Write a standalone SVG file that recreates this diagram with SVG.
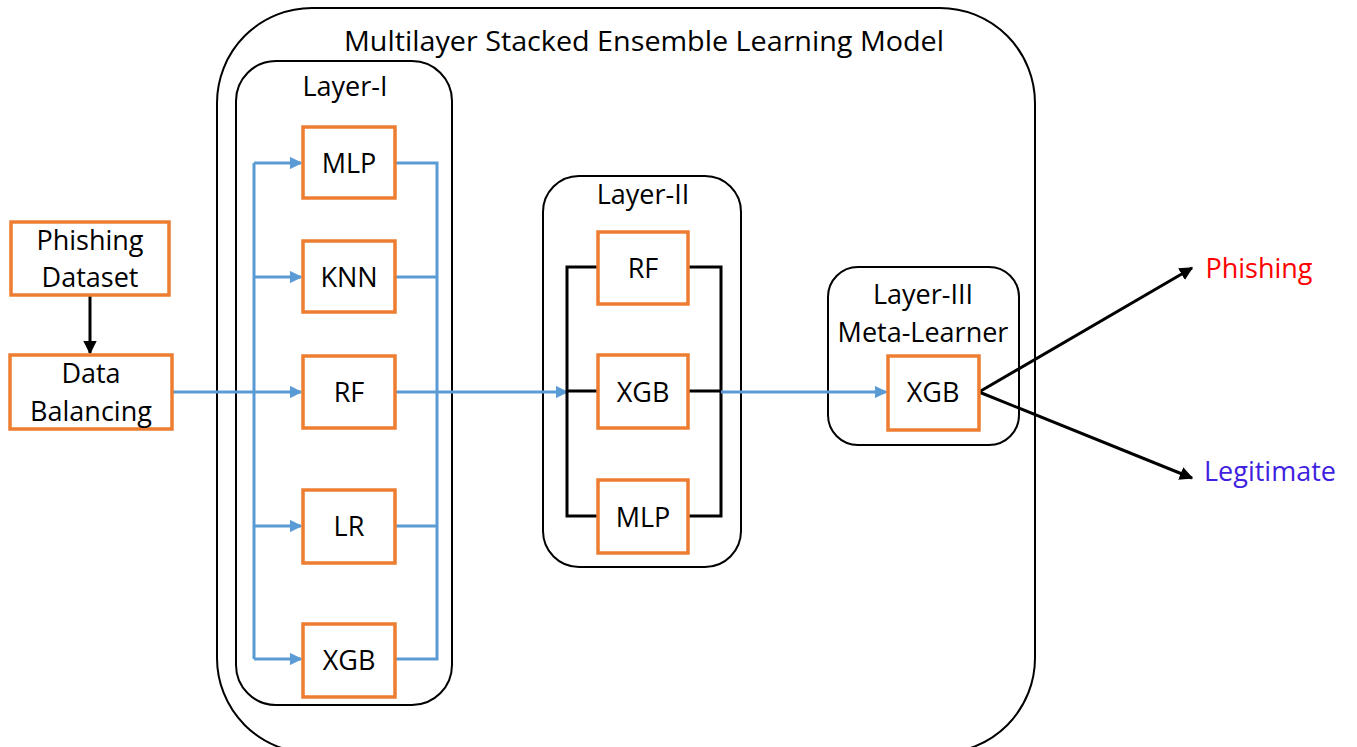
<svg xmlns="http://www.w3.org/2000/svg" width="1357" height="747" viewBox="0 0 1357 747">
  <defs>
    <style>
      text { font-family: "Open Sans", "Liberation Sans", sans-serif; font-size: 27px; fill: #000; text-anchor: middle; }
      .node { fill: #fff; stroke: #ED7D31; stroke-width: 3.5; }
      .layer { fill: none; stroke: #000; stroke-width: 2; }
      .blue { fill: none; stroke: #5B9BD5; stroke-width: 3; }
      .blk { fill: none; stroke: #000; stroke-width: 3; }
    </style>
    <marker id="ab" viewBox="0 0 10 10" refX="9" refY="5" markerWidth="4.2" markerHeight="4.2" orient="auto">
      <path d="M0,0 L10,5 L0,10 z" fill="#5B9BD5"/>
    </marker>
    <marker id="ak" viewBox="0 0 10 10" refX="9" refY="5" markerWidth="4.5" markerHeight="4.5" orient="auto">
      <path d="M0,0 L10,5 L0,10 z" fill="#000"/>
    </marker>
  </defs>

  <!-- containers -->
  <g id="model">
    <rect class="layer" x="217" y="8" width="818" height="745" rx="95"/>
    <text x="644" y="51" textLength="600" lengthAdjust="spacingAndGlyphs">Multilayer Stacked Ensemble Learning Model</text>
  </g>
  <g id="layer1">
    <rect class="layer" x="236" y="61" width="216" height="644" rx="40"/>
    <text x="345" y="96">Layer-I</text>
  </g>
  <g id="layer2">
    <rect class="layer" x="543" y="176" width="198" height="391" rx="36"/>
    <text x="643" y="204">Layer-II</text>
  </g>
  <g id="layer3">
    <rect class="layer" x="828" y="267" width="191" height="178" rx="30"/>
    <text x="923" y="304">Layer-III</text>
    <text x="923" y="342">Meta-Learner</text>
  </g>

  <!-- connectors -->
  <g id="connectors">
    <line class="blk" x1="90" y1="296" x2="90" y2="353" marker-end="url(#ak)"/>
    <line class="blue" x1="172" y1="392" x2="301" y2="392" marker-end="url(#ab)"/>
    <line class="blue" x1="254" y1="163" x2="254" y2="659"/>
    <line class="blue" x1="254" y1="163" x2="301" y2="163" marker-end="url(#ab)"/>
    <line class="blue" x1="254" y1="277" x2="301" y2="277" marker-end="url(#ab)"/>
    <line class="blue" x1="254" y1="526" x2="301" y2="526" marker-end="url(#ab)"/>
    <line class="blue" x1="254" y1="659" x2="301" y2="659" marker-end="url(#ab)"/>
    <path class="blue" d="M395,163 H437 V659 H395 M395,277 H437 M395,526 H437"/>
    <line class="blue" x1="395" y1="392" x2="567" y2="392" marker-end="url(#ab)"/>
    <path class="blk" d="M598,267 H567 V516 H598 M567,391 H598 M688,267 H721 V516 H688 M688,391 H721"/>
    <line class="blue" x1="721" y1="392" x2="886" y2="392" marker-end="url(#ab)"/>
    <line class="blk" x1="979" y1="392" x2="1192" y2="268" marker-end="url(#ak)"/>
    <line class="blk" x1="979" y1="392" x2="1192" y2="478" marker-end="url(#ak)"/>
  </g>

  <!-- nodes -->
  <g id="phishing-dataset">
    <rect class="node" x="11" y="222" width="158" height="73"/>
    <text x="90" y="250">Phishing</text>
    <text x="90" y="287">Dataset</text>
  </g>
  <g id="data-balancing">
    <rect class="node" x="10" y="355" width="162" height="74"/>
    <text x="91" y="383">Data</text>
    <text x="91" y="421">Balancing</text>
  </g>
  <g id="l1-mlp"><rect class="node" x="303" y="127" width="92" height="71"/><text x="349" y="173">MLP</text></g>
  <g id="l1-knn"><rect class="node" x="303" y="241" width="92" height="71"/><text x="349" y="287">KNN</text></g>
  <g id="l1-rf"><rect class="node" x="303" y="356" width="92" height="72"/><text x="349" y="402">RF</text></g>
  <g id="l1-lr"><rect class="node" x="303" y="490" width="92" height="73"/><text x="349" y="536">LR</text></g>
  <g id="l1-xgb"><rect class="node" x="303" y="624" width="92" height="73"/><text x="349" y="670">XGB</text></g>
  <g id="l2-rf"><rect class="node" x="598" y="232" width="90" height="72"/><text x="643" y="278">RF</text></g>
  <g id="l2-xgb"><rect class="node" x="598" y="355" width="90" height="73"/><text x="643" y="402">XGB</text></g>
  <g id="l2-mlp"><rect class="node" x="598" y="480" width="90" height="73"/><text x="643" y="527">MLP</text></g>
  <g id="l3-xgb"><rect class="node" x="888" y="356" width="91" height="74"/><text x="933" y="402">XGB</text></g>

  <!-- outputs -->
  <g id="out-phishing"><text x="1259" y="278" style="fill:#FF0000">Phishing</text></g>
  <g id="out-legitimate"><text x="1270" y="481" style="fill:#3F1FE0">Legitimate</text></g>
</svg>
